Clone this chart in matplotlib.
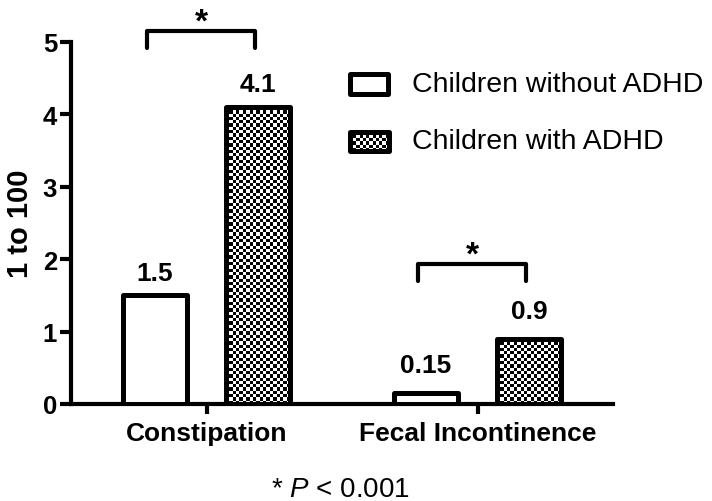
import numpy as np
import matplotlib
matplotlib.use("Agg")
import matplotlib.pyplot as plt
from matplotlib.patches import Rectangle

plt.rcParams['font.family'] = ['Liberation Sans', 'DejaVu Sans']
plt.rcParams['mathtext.fontset'] = 'custom'
plt.rcParams['mathtext.rm'] = 'Liberation Sans'
plt.rcParams['mathtext.it'] = 'Liberation Sans:italic'

categories = ["Constipation", "Fecal Incontinence"]
series_names = ["Children without ADHD", "Children with ADHD"]
without_adhd = [1.5, 0.15]
with_adhd = [4.1, 0.9]
value_labels_without = ["1.5", "0.15"]
value_labels_with = ["4.1", "0.9"]
yticks = [0, 1, 2, 3, 4, 5]
ylabel = "1 to 100"
footnote = r"* $\mathit{P}$ < 0.001"

W, H = 712, 502
fig = plt.figure(figsize=(W / 100, H / 100), dpi=100)
ax = fig.add_axes([71 / W, 1 - 405 / H, (613 - 71) / W, (405 - 43) / H])

x = np.arange(len(categories))
off = 0.19
bw = 0.235
lw_bar = 3.6

bars1 = ax.bar(x - off, without_adhd, bw, facecolor='white', edgecolor='black',
               linewidth=lw_bar, joinstyle='round', zorder=3)
bars2 = ax.bar(x + off, with_adhd, bw, facecolor='none', edgecolor='black',
               linewidth=lw_bar, joinstyle='round', zorder=3)

ax.set_xlim(-0.5, 1.5)
ax.set_ylim(0, 5)

# checkerboard fill for hatched bars
px_per_x = (613 - 71) / 2.0
px_per_y = (405 - 43) / 5.0
cell = 3.3


def checker(nr, nc):
    r, c = np.indices((nr, nc))
    return ((r + c) % 2).astype(float)


for b in bars2:
    bx, by = b.get_x(), b.get_y()
    bwid, bh = b.get_width(), b.get_height()
    nc = max(2, int(round(bwid * px_per_x / cell)))
    nr = max(2, int(round(bh * px_per_y / cell)))
    im = ax.imshow(checker(nr, nc), cmap='gray', vmin=0, vmax=1,
                   extent=[bx, bx + bwid, by, by + bh], interpolation='nearest',
                   aspect='auto', zorder=2.5)
    im.set_clip_path(b)

ax.set_xlim(-0.5, 1.5)
ax.set_ylim(0, 5)

# value labels
lab_off = [0.15, 0.22]
for i in range(len(categories)):
    ax.text(x[i] - off, without_adhd[i] + lab_off[i], value_labels_without[i],
            ha='center', va='bottom', fontsize=19, fontweight='bold')
    ax.text(x[i] + off, with_adhd[i] + lab_off[i], value_labels_with[i],
            ha='center', va='bottom', fontsize=19, fontweight='bold')

# significance brackets
br_top = [5.15, 1.93]
br_leg = 0.23
for i in range(len(categories)):
    xl, xr = x[i] - 0.22, x[i] + 0.18
    ax.plot([xl, xl, xr, xr], [br_top[i] - br_leg, br_top[i], br_top[i], br_top[i] - br_leg],
            color='black', linewidth=3, solid_capstyle='round', solid_joinstyle='round',
            clip_on=False, zorder=4)
    ax.text((xl + xr) / 2, br_top[i] + 0.01, "*", ha='center', va='baseline',
            fontsize=24, fontweight='bold', clip_on=False)

# axes styling
for s in ['top', 'right']:
    ax.spines[s].set_visible(False)
for s in ['left', 'bottom']:
    ax.spines[s].set_linewidth(3)
ax.set_yticks(yticks)
ax.set_yticklabels([str(t) for t in yticks], fontsize=18.5, fontweight='bold')
ax.set_xticks(x)
ax.set_xticklabels(categories, fontsize=19, fontweight='bold')
ax.tick_params(axis='y', length=8, width=3, pad=2)
ax.tick_params(axis='x', length=7, width=3, pad=5)
ax.set_ylabel(ylabel, fontsize=21, fontweight='bold', labelpad=6)

# legend (manual)
def fx(px):
    return px / W


def fy(py):
    return 1 - py / H


r1 = Rectangle((fx(350), fy(95)), fx(388) - fx(350), fy(75) - fy(95), transform=fig.transFigure,
               facecolor='white', edgecolor='black', linewidth=3.6, joinstyle='round')
fig.add_artist(r1)
lx0, lx1, ly0, ly1 = 350, 389, 133, 152
ax_leg = fig.add_axes([fx(lx0), fy(ly1), fx(lx1) - fx(lx0), fy(ly0) - fy(ly1)], zorder=5)
ax_leg.imshow(checker(int(round((ly1 - ly0) / cell)), int(round((lx1 - lx0) / cell))),
              cmap='gray', vmin=0, vmax=1, interpolation='nearest', aspect='auto')
ax_leg.set_axis_off()
r2b = Rectangle((0, 0), 1, 1, transform=ax_leg.transAxes, facecolor='none', edgecolor='black',
                linewidth=3.6, joinstyle='round', clip_on=False)
ax_leg.add_patch(r2b)

fig.text(fx(412), fy(85), series_names[0], fontsize=20.5, va='center', ha='left')
fig.text(fx(412), fy(142), series_names[1], fontsize=20.5, va='center', ha='left')

fig.text(fx(340), fy(490), footnote, fontsize=20, ha='center', va='center')

fig.savefig("out.png", dpi=100)
